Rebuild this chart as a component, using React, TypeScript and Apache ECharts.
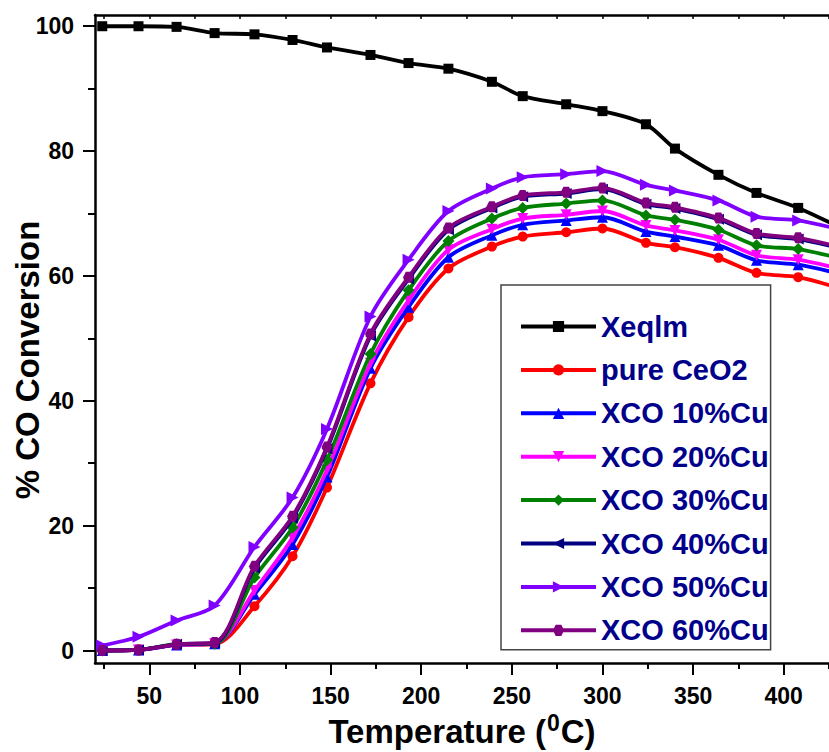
import React, { useEffect, useRef } from "react";
import * as echarts from "echarts";

// Temperatures (°C) of the measured points
const temps = [24, 44, 65, 86, 108, 129, 148, 172, 193, 215, 239, 256, 280, 300, 324, 340, 364, 385, 408, 430];

// % CO conversion per series
const xeqlm = [100, 100, 99.9, 98.9, 98.7, 97.8, 96.6, 95.4, 94.1, 93.2, 91.1, 88.8, 87.5, 86.4, 84.3, 80.4, 76.2, 73.3, 70.9, 67.9];
const pureCeO2 = [0, 0.1, 0.9, 1.0, 7.1, 15.1, 26.1, 42.8, 53.4, 61.2, 64.7, 66.3, 67.0, 67.6, 65.3, 64.6, 62.9, 60.5, 59.8, 58.1];
const xco10 = [0, 0.1, 0.9, 1.1, 9.0, 17.0, 27.8, 45.2, 55.0, 63.0, 66.5, 68.2, 68.9, 69.4, 67.1, 66.3, 64.9, 62.5, 61.8, 60.4];
const xco20 = [0, 0.1, 0.9, 1.1, 9.6, 18.1, 28.9, 46.0, 56.1, 64.2, 67.5, 69.2, 69.8, 70.4, 68.1, 67.3, 65.8, 63.3, 62.6, 61.2];
const xco30 = [0, 0.1, 1.0, 1.1, 11.7, 19.7, 30.5, 47.5, 57.7, 65.6, 69.2, 70.9, 71.6, 72.1, 69.7, 69.0, 67.4, 64.9, 64.3, 62.9];
const xco40 = [0, 0.1, 1.0, 1.2, 13.2, 21.2, 32.3, 50.4, 59.5, 67.4, 70.9, 72.7, 73.2, 73.9, 71.5, 70.8, 69.1, 66.6, 65.9, 64.5];
const xco50 = [0.8, 2.2, 4.8, 7.2, 16.6, 24.5, 35.5, 53.5, 62.6, 70.4, 74.0, 75.8, 76.3, 76.8, 74.6, 73.7, 72.1, 69.5, 68.9, 67.5];
const xco60 = [0, 0.1, 1.0, 1.3, 13.5, 21.5, 32.6, 50.7, 59.8, 67.7, 71.1, 72.9, 73.4, 74.1, 71.7, 71.0, 69.3, 66.8, 66.1, 64.7];

const seriesNames = ["Xeqlm", "pure CeO2", "XCO 10%Cu", "XCO 20%Cu", "XCO 30%Cu", "XCO 40%Cu", "XCO 50%Cu", "XCO 60%Cu"];
const seriesValues = [xeqlm, pureCeO2, xco10, xco20, xco30, xco40, xco50, xco60];

// Tick values
const xMajorTicks = [50, 100, 150, 200, 250, 300, 350, 400];
const xMinorTicks = [25, 75, 125, 175, 225, 275, 325, 375, 425];
const xTopTicks = [25, 50, 75, 100, 125, 150, 175, 200, 225, 250, 275, 300, 325, 350, 375, 400, 425];
const yMajorTicks = [0, 20, 40, 60, 80, 100];
const yMinorTicks = [10, 30, 50, 70, 90];

const yTitle = "% CO Conversion";

const colors = ["#000000", "#FF0000", "#0000FF", "#FF00FF", "#008000", "#000080", "#8000FF", "#800080"];
const symbols = [
  "rect",
  "circle",
  "triangle",
  "triangle",
  "diamond",
  "triangle",
  "triangle",
  "path://M-10,0 L-5,-8.66 L5,-8.66 L10,0 L5,8.66 L-5,8.66 Z",
];
const rotations = [0, 0, 0, 180, 0, 90, -90, 0];
const sizes = [10, 10, 11, 11, 12, 11, 12, 11];

const FONT = "'Liberation Sans', Arial, Helvetica, sans-serif";

export default function App() {
  const ref = useRef<HTMLDivElement>(null);

  useEffect(() => {
    if (!ref.current) return;
    const chart = echarts.init(ref.current, undefined, { renderer: "svg" });

    const series = seriesNames.map((name, i) => ({
      name,
      type: "line",
      data: temps.map((t, j) => [t, seriesValues[i][j]]),
      smooth: 0.3,
      symbol: symbols[i],
      symbolSize: sizes[i],
      symbolRotate: rotations[i],
      showAllSymbol: true,
      clip: true,
      color: colors[i],
      lineStyle: { width: 3.8, color: colors[i] },
      itemStyle: { color: colors[i] },
      emphasis: { disabled: true },
      z: 2 + i,
    }));

    const option: any = {
      animation: false,
      backgroundColor: "#ffffff",
      textStyle: { fontFamily: FONT },
      grid: { left: 95, right: 0, top: 15, bottom: 89, containLabel: false, outerBoundsMode: "none" },
      graphic: [
        {
          type: "text",
          x: 27,
          y: 360,
          rotation: Math.PI / 2,
          style: {
            text: yTitle,
            fontFamily: FONT,
            fontSize: 33,
            fontWeight: "bold",
            fill: "#000",
            align: "center",
            verticalAlign: "middle",
          },
        },
      ],
      legend: {
        orient: "vertical",
        left: 501,
        top: 285,
        padding: [27, 2, 5, 18],
        itemWidth: 75,
        itemHeight: 14,
        itemGap: 14.4,
        backgroundColor: "#ffffff",
        borderColor: "#444444",
        borderWidth: 1.5,
        borderRadius: 0,
        selectedMode: false,
        lineStyle: { width: 4 },
        textStyle: {
          fontFamily: FONT,
          fontSize: 29,
          fontWeight: "bold",
          color: "#00008B",
          lineHeight: 29,
        },
        data: seriesNames,
      },
      xAxis: [
        {
          type: "value",
          min: 20,
          max: 425,
          position: "bottom",
          axisLine: { show: true, onZero: false, lineStyle: { color: "#000", width: 2.5 } },
          axisTick: {
            show: true,
            inside: false,
            length: 12,
            customValues: xMajorTicks,
            lineStyle: { color: "#000", width: 2 },
          },
          axisLabel: {
            show: true,
            customValues: xMajorTicks,
            margin: 21,
            fontSize: 23,
            fontWeight: "bold",
            color: "#000",
            fontFamily: FONT,
          },
          splitLine: { show: false },
          name: "{a|Temperature (}{s|0}{a|C)}",
          nameLocation: "middle",
          nameGap: 42,
          nameTextStyle: {
            rich: {
              a: {
                fontSize: 33,
                fontWeight: "bold",
                color: "#000",
                fontFamily: FONT,
                verticalAlign: "bottom",
                lineHeight: 36,
              },
              s: {
                fontSize: 23,
                fontWeight: "bold",
                color: "#000",
                fontFamily: FONT,
                verticalAlign: "top",
                lineHeight: 22,
                padding: [0, 1, 0, 1],
              },
            },
            lineHeight: 58,
          },
        },
        {
          type: "value",
          min: 20,
          max: 425,
          position: "bottom",
          axisLine: { show: false, onZero: false },
          axisTick: {
            show: true,
            inside: false,
            length: 6,
            customValues: xMinorTicks,
            lineStyle: { color: "#000", width: 2 },
          },
          axisLabel: { show: false },
          splitLine: { show: false },
        },
        {
          type: "value",
          min: 20,
          max: 425,
          position: "top",
          axisLine: { show: true, onZero: false, lineStyle: { color: "#000", width: 2.5 } },
          axisTick: {
            show: true,
            inside: true,
            length: 4,
            customValues: xTopTicks,
            lineStyle: { color: "#000", width: 1.5 },
          },
          axisLabel: { show: false },
          splitLine: { show: false },
        },
      ],
      yAxis: [
        {
          type: "value",
          min: -2,
          max: 101.8,
          position: "left",
          axisLine: { show: true, onZero: false, lineStyle: { color: "#000", width: 2.5 } },
          axisTick: {
            show: true,
            inside: false,
            length: 12,
            customValues: yMajorTicks,
            lineStyle: { color: "#000", width: 2 },
          },
          axisLabel: {
            show: true,
            customValues: yMajorTicks,
            margin: 21,
            fontSize: 23,
            fontWeight: "bold",
            color: "#000",
            fontFamily: FONT,
          },
          splitLine: { show: false },
        },
        {
          type: "value",
          min: -2,
          max: 101.8,
          position: "left",
          axisLine: { show: false, onZero: false },
          axisTick: {
            show: true,
            inside: false,
            length: 7,
            customValues: yMinorTicks,
            lineStyle: { color: "#000", width: 2 },
          },
          axisLabel: { show: false },
          splitLine: { show: false },
        },
      ],
      series,
    };

    chart.setOption(option);
    return () => chart.dispose();
  }, []);

  return (
    <div
      ref={ref}
      style={{ position: "fixed", left: 0, top: 0, width: 829, height: 752, background: "#fff" }}
    />
  );
}
